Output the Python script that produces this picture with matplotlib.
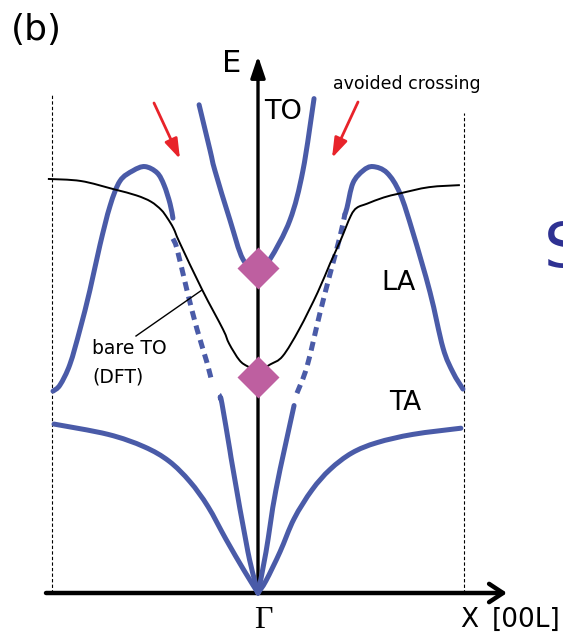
import matplotlib
matplotlib.use("Agg")
import matplotlib.pyplot as plt
import numpy as np
from matplotlib.path import Path
from matplotlib.patches import PathPatch

# ---------------- data (q: reduced wavevector Γ=0, X=±1 ; E: arbitrary units) -------------
bare_to_q = [-1.02, -0.86, -0.70, -0.59, -0.52, -0.47, -0.44, -0.41, -0.38, -0.27, -0.17, -0.14,
             -0.09, -0.05, 0.00, 0.06, 0.12, 0.20, 0.29, 0.35, 0.40, 0.45, 0.48, 0.53, 0.61,
             0.69, 0.83, 0.98]
bare_to_E = [2.01, 2.00, 1.96, 1.93, 1.90, 1.86, 1.82, 1.77, 1.70, 1.47, 1.28, 1.21,
             1.13, 1.10, 1.08, 1.11, 1.15, 1.28, 1.46, 1.60, 1.71, 1.83, 1.87, 1.89, 1.92,
             1.94, 1.97, 1.98]

to_q = [-0.286, -0.233, -0.209, -0.136, -0.073, 0.0, 0.058, 0.155, 0.218, 0.272]
to_E = [2.37, 2.15, 2.05, 1.81, 1.62, 1.56, 1.62, 1.81, 2.05, 2.40]

la_left_outer_q = [-0.995, -0.961, -0.913, -0.864, -0.816, -0.767, -0.718, -0.670, -0.607,
                   -0.549, -0.490, -0.456, -0.427, -0.413]
la_left_outer_E = [0.98, 1.01, 1.11, 1.28, 1.47, 1.69, 1.88, 2.00, 2.05, 2.07, 2.04, 1.98,
                   1.89, 1.82]
la_left_dash_q = [-0.413, -0.393, -0.345, -0.296, -0.248, -0.223]
la_left_dash_E = [1.72, 1.67, 1.47, 1.28, 1.12, 1.02]
la_left_inner_q = [-0.184, -0.175, -0.136, -0.121, -0.049, 0.0]
la_left_inner_E = [0.95, 0.92, 0.69, 0.60, 0.20, 0.0]

la_right_inner_q = [0.0, 0.039, 0.087, 0.175]
la_right_inner_E = [0.0, 0.20, 0.50, 0.91]
la_right_dash_q = [0.189, 0.238, 0.301, 0.350, 0.398, 0.422]
la_right_dash_E = [0.97, 1.10, 1.36, 1.55, 1.73, 1.84]
la_right_outer_q = [0.422, 0.432, 0.461, 0.510, 0.558, 0.626, 0.689, 0.752, 0.835, 0.898,
                    0.947, 0.995]
la_right_outer_E = [1.84, 1.87, 1.99, 2.05, 2.07, 2.04, 1.94, 1.75, 1.46, 1.19, 1.07, 0.99]

ta_left_q = [-0.990, -0.728, -0.553, -0.432, -0.330, -0.243, -0.155, -0.068, 0.0]
ta_left_E = [0.82, 0.77, 0.71, 0.64, 0.54, 0.42, 0.26, 0.11, 0.0]
ta_right_q = [0.0, 0.039, 0.107, 0.175, 0.262, 0.350, 0.456, 0.578, 0.752, 0.985]
ta_right_E = [0.0, 0.06, 0.20, 0.36, 0.50, 0.60, 0.68, 0.73, 0.77, 0.80]

diamond_E = [1.58, 1.05]

# ---------------- figure ----------------
W, H = 563, 642
S = 206.0          # pixels per unit
X0, Y0 = 258.0, 593.0


def P(px, py):
    return ((px - X0) / S, (Y0 - py) / S)


fig = plt.figure(figsize=(W / 100, H / 100), dpi=100)
ax = fig.add_axes([0, 0, 1, 1])
ax.set_xlim((0 - X0) / S, (W - X0) / S)
ax.set_ylim((Y0 - H) / S, Y0 / S)
ax.axis("off")

BLUE = "#4a5ba8"
MAG = "#be5fa0"
RED = "#e8232a"
LW = 3.6
dash = (0, (1.8, 1.2))


def smooth_curve(qs, es, sharp=(), **kw):
    """Draw a smooth curve through the given points (Catmull-Rom rendered as Bezier)."""
    pts = np.column_stack([qs, es]).astype(float)
    n = len(pts)
    verts = [pts[0]]
    codes = [Path.MOVETO]
    for i in range(n - 1):
        p0 = pts[i - 1] if i > 0 and i not in sharp else pts[i]
        p1 = pts[i]
        p2 = pts[i + 1]
        p3 = pts[i + 2] if i + 2 < n and (i + 1) not in sharp else pts[i + 1]
        c1 = p1 + (p2 - p0) / 6.0
        c2 = p2 - (p3 - p1) / 6.0
        verts += [c1, c2, p2]
        codes += [Path.CURVE4] * 3
    patch = PathPatch(Path(verts, codes), fill=False, **kw)
    ax.add_patch(patch)
    return patch


# dashed zone-boundary lines
ax.plot([-1, -1], [0, 2.42], color="k", lw=0.8, ls=(0, (3, 2)), zorder=1)
ax.plot([1, 1], [0, 2.33], color="k", lw=0.8, ls=(0, (3, 2)), zorder=1)

# axes arrows
ax.annotate("", xy=P(507, 593), xytext=P(46, 593),
            arrowprops=dict(arrowstyle="->,head_length=0.5,head_width=0.33", lw=3.2,
                            color="k", shrinkA=0, shrinkB=0, mutation_scale=20), zorder=2)
ax.annotate("", xy=P(258, 56), xytext=P(258, 593),
            arrowprops=dict(arrowstyle="-|>,head_length=0.65,head_width=0.22", lw=2.4,
                            color="k", shrinkA=0, shrinkB=0, mutation_scale=20), zorder=2)

# phonon branches
kw = dict(edgecolor=BLUE, lw=LW, capstyle="round", zorder=3)
smooth_curve(to_q, to_E, sharp=(5,), **kw)
smooth_curve(la_left_outer_q, la_left_outer_E, **kw)
smooth_curve(la_left_inner_q, la_left_inner_E, **kw)
smooth_curve(la_right_inner_q, la_right_inner_E, **kw)
smooth_curve(la_right_outer_q, la_right_outer_E, **kw)
smooth_curve(ta_left_q, ta_left_E, **kw)
smooth_curve(ta_right_q, ta_right_E, **kw)
smooth_curve(la_left_dash_q, la_left_dash_E, edgecolor=BLUE, lw=LW, ls=dash,
             capstyle="butt", zorder=3)
smooth_curve(la_right_dash_q, la_right_dash_E, edgecolor=BLUE, lw=LW, ls=dash,
             capstyle="butt", zorder=3)

# bare TO (DFT)
smooth_curve(bare_to_q, bare_to_E, edgecolor="k", lw=1.4, zorder=4)
ax.plot(*zip(P(136, 336), P(202, 290)), color="k", lw=1.0, zorder=4)

# diamonds
ax.plot([0] * len(diamond_E), diamond_E, ls="none", marker="D", ms=21,
        color=MAG, mec="none", zorder=6)

# red arrows
for start, tip in [((154, 103), (180, 159)), ((358, 102), (332, 158))]:
    ax.annotate("", xy=P(*tip), xytext=P(*start),
                arrowprops=dict(arrowstyle="-|>,head_length=0.75,head_width=0.25", lw=2.0,
                                color=RED, shrinkA=0, shrinkB=0, mutation_scale=16), zorder=5)

# texts
F = "DejaVu Sans"
ax.text(*P(11, 30), "(b)", fontsize=26, family=F, ha="left", va="center")
ax.text(*P(232, 64), "E", fontsize=22, family=F, ha="center", va="center")
ax.text(*P(264, 112), "TO", fontsize=19.5, family=F, ha="left", va="center")
ax.text(*P(381, 283), "LA", fontsize=19.5, family=F, ha="left", va="center")
ax.text(*P(389, 403), "TA", fontsize=19, family=F, ha="left", va="center")
ax.text(*P(333, 84), "avoided crossing", fontsize=12.5, family=F, ha="left", va="center")
ax.text(*P(92, 348), "bare TO", fontsize=13.5, family=F, ha="left", va="center")
ax.text(*P(92, 377), "(DFT)", fontsize=13.5, family=F, ha="left", va="center")
ax.text(*P(263, 621), "Γ", fontsize=23, family="Liberation Serif", ha="center", va="center")
ax.text(*P(460, 620), "X", fontsize=19, family=F, ha="left", va="center")
ax.text(*P(492, 620), "[00L]", fontsize=19, family=F, ha="left", va="center")
ax.text(*P(544, 250), "S", fontsize=45, family=F, color="#2e3192", ha="left", va="center")

fig.savefig("out.png", dpi=100)
